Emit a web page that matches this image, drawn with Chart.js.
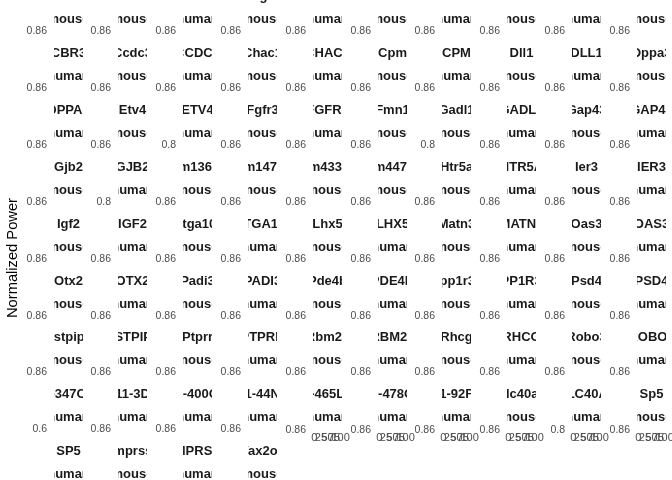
<!DOCTYPE html>
<html>
<head>
<meta charset="utf-8">
<script src="https://cdn.jsdelivr.net/npm/chart.js@4"></script>
<style>
html,body{margin:0;padding:0;background:#fff;width:672px;height:480px;overflow:hidden;position:relative}
canvas{position:absolute}
</style>
</head>
<body>
<script>
// ---------- data ----------
const facetGenes = [
  "Aass","Bcl11a","BCL11A","Cage1","CAGE1","Calb2","CALB2","Car4","CAR4","Cbr3",
  "CBR3","Ccdc3","CCDC3","Chac1","CHAC1","Cpm","CPM","Dll1","DLL1","Dppa3",
  "DPPA3","Etv4","ETV4","Fgfr3","FGFR3","Fmn1","Gadl1","GADL1","Gap43","GAP43",
  "Gjb2","GJB2","Gm13652","Gm14762","Gm43305","Gm44712","Htr5a","HTR5A","Ier3","IER3",
  "Igf2","IGF2","Itga10","ITGA10","Lhx5","LHX5","Matn3","MATN3","Oas3","OAS3",
  "Otx2","OTX2","Padi3","PADI3","Pde4b","PDE4B","Ppp1r3c","PPP1R3C","Psd4","PSD4",
  "Pstpip1","PSTPIP1","Ptprr","PTPRR","Rbm20","RBM20","Rhcg","RHCG","Robo3","ROBO3",
  "RP11-347C12.10","RP11-3D4.2","RP11-400O10.1","RP11-44N21.1","RP11-465L10.10","RP11-478C19.2","RP11-92F10.1","Slc40a1","SLC40A1","Sp5",
  "SP5","Tmprss2","TMPRSS2","Vax2os"
];
const facetSpecies = [
  "mouse","mouse","human","mouse","human","mouse","human","mouse","human","mouse",
  "human","mouse","human","mouse","human","mouse","human","mouse","human","mouse",
  "human","mouse","human","mouse","human","mouse","mouse","human","mouse","human",
  "mouse","human","mouse","mouse","mouse","mouse","mouse","human","mouse","human",
  "mouse","human","mouse","human","mouse","human","mouse","human","mouse","human",
  "mouse","human","mouse","human","mouse","human","mouse","human","mouse","human",
  "mouse","human","mouse","human","mouse","human","mouse","human","mouse","human",
  "human","human","human","human","human","human","human","mouse","human","mouse",
  "human","mouse","human","mouse"
];
// which y tick set each facet uses (free y scales)
const facetYScale = [
  "AAAAAAAAAA","AAAAAAAAAA","AABAAABAAA","ABAAAAAAAA","AAAAAAAAAA",
  "AAAAAAAAAA","AAAAAAAAAA","CAAAAAAABA","AAAA"
].join("");
const yTicksA = [0.86];
const yLabelsA = ["0.86"];
const yTicksB = [0.8];
const yLabelsB = ["0.8"];
const yTicksC = [0.6];
const yLabelsC = ["0.6"];
const xTicks = [0, 25, 50, 75, 100];
const xLabels = ["0", "25", "50", "75", "100"];
const xRange = [-5, 105];
const yAxisTitle = "Normalized Power";
const nCols = 10;

// ---------- layout / style ----------
const FONT = '"Liberation Sans", Arial, Helvetica, sans-serif';
const PANEL_LEFT0 = 53.5, COL_PITCH = 64.8, PANEL_W = 29;
const SPECIES_BASE0 = 23, ROW_PITCH = 56.9;
const AXIS_W = 45, PAD_R = 15, TOP = 48, AREA_H = 2, XAXIS_H = 18;

const tickSets = {
  A: {v: yTicksA, l: yLabelsA},
  B: {v: yTicksB, l: yLabelsB},
  C: {v: yTicksC, l: yLabelsC}
};

const stripPlugin = {
  id: 'strips',
  afterDraw(chart, args, opts) {
    const {ctx, chartArea: a} = chart;
    ctx.save();
    ctx.beginPath();
    ctx.rect(a.left, 0, a.right - a.left, a.top);
    ctx.clip();
    ctx.fillStyle = '#1A1A1A';
    ctx.font = 'bold 13px ' + FONT;
    ctx.textAlign = 'center';
    ctx.textBaseline = 'alphabetic';
    const cx = (a.left + a.right) / 2;
    ctx.fillText(opts.gene, cx, a.top - 31);
    ctx.fillText(opts.species, cx, a.top - 8);
    ctx.restore();
  }
};

const N = facetGenes.length;
for (let i = 0; i < N; i++) {
  const r = Math.floor(i / nCols), c = i % nCols;
  const bottom = i + nCols >= N;
  const ts = tickSets[facetYScale[i]];
  const w = AXIS_W + PANEL_W + PAD_R;
  const h = TOP + AREA_H + 7 + (bottom ? XAXIS_H : 0);
  const cv = document.createElement('canvas');
  cv.width = w; cv.height = h;
  cv.style.width = w + 'px'; cv.style.height = h + 'px';
  cv.style.left = Math.round(PANEL_LEFT0 + COL_PITCH * c - AXIS_W) + 'px';
  cv.style.top = Math.round(SPECIES_BASE0 + ROW_PITCH * r - 40) + 'px';
  document.body.appendChild(cv);
  new Chart(cv, {
    type: 'line',
    data: {datasets: [{data: [], borderColor: '#000', pointRadius: 0}]},
    options: {
      responsive: false, animation: false, devicePixelRatio: 1,
      layout: {padding: {left: 0, right: PAD_R, top: TOP, bottom: 7}},
      plugins: {
        legend: {display: false}, tooltip: {enabled: false},
        strips: {gene: facetGenes[i], species: facetSpecies[i]}
      },
      scales: {
        x: {
          type: 'linear', min: xRange[0], max: xRange[1], display: bottom,
          grid: {display: false, drawTicks: false}, border: {display: false},
          ticks: {autoSkip: false, maxRotation: 0, minRotation: 0, padding: 0,
                  color: '#4D4D4D', font: {family: FONT, size: 11},
                  callback: (v, idx) => xLabels[idx]},
          afterBuildTicks: s => { s.ticks = xTicks.map(v => ({value: v})); },
          afterFit: s => { s.height = XAXIS_H; }
        },
        y: {
          type: 'linear', min: ts.v[0] - 0.02, max: ts.v[ts.v.length - 1] + 0.02,
          grid: {display: false, drawTicks: false}, border: {display: false},
          ticks: {autoSkip: false, padding: 7, color: '#4D4D4D',
                  font: {family: FONT, size: 10.5},
                  callback: (v, idx) => ts.l[idx]},
          afterBuildTicks: s => { s.ticks = ts.v.map(v => ({value: v})); },
          afterFit: s => { s.width = AXIS_W; }
        }
      }
    },
    plugins: [stripPlugin]
  });
}

// y axis title
const tc = document.createElement('canvas');
tc.width = 30; tc.height = 444;
tc.style.width = '30px'; tc.style.height = '444px';
tc.style.left = '0px'; tc.style.top = '36px';
document.body.appendChild(tc);
new Chart(tc, {
  type: 'line',
  data: {datasets: []},
  options: {
    responsive: false, animation: false, devicePixelRatio: 1,
    layout: {padding: 0},
    plugins: {legend: {display: false}, tooltip: {enabled: false}},
    scales: {
      x: {display: false},
      y: {
        display: true, min: 0, max: 1,
        grid: {display: false, drawTicks: false}, border: {display: false},
        ticks: {display: false},
        title: {display: true, text: yAxisTitle, color: '#000',
                font: {family: FONT, size: 14.7}, padding: {top: 4, bottom: 4}}
      }
    }
  }
});
</script>
</body>
</html>
